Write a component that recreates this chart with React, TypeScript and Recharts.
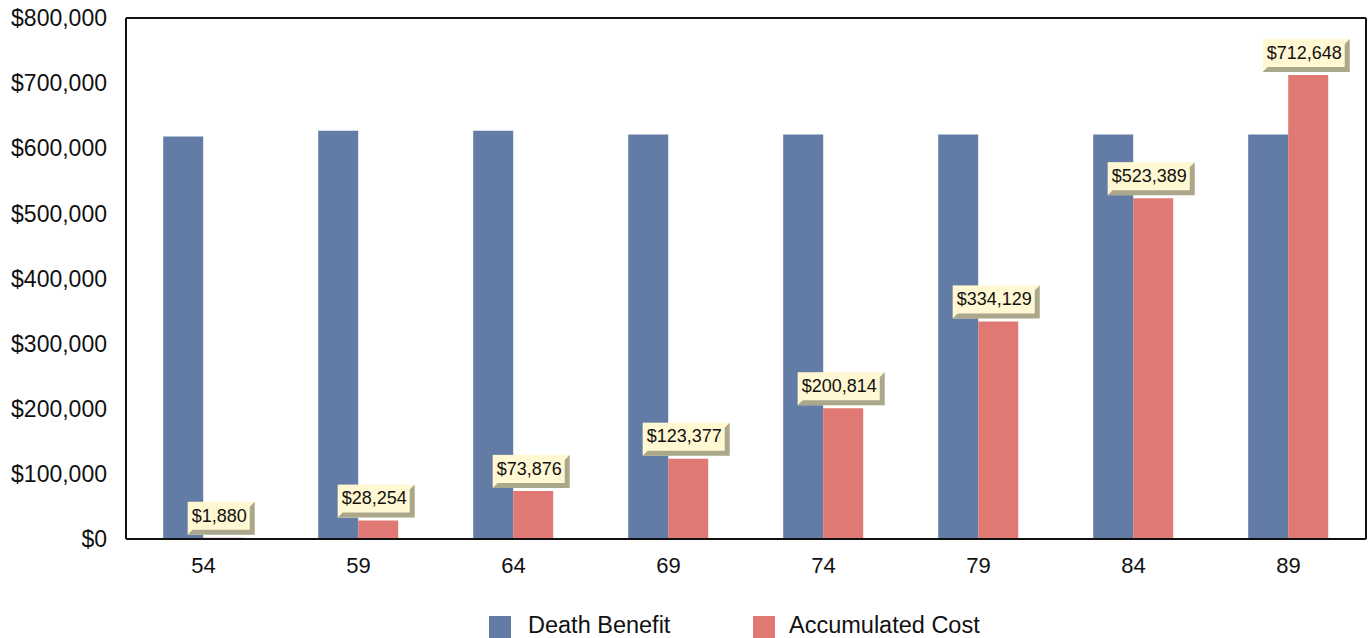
import { Bar, BarChart, CartesianGrid, LabelList, Legend, XAxis, YAxis } from "recharts"

const ages = [54, 59, 64, 69, 74, 79, 84, 89]
const deathBenefit = [618000, 627000, 627000, 621000, 621000, 621000, 621000, 621000]
const accumulatedCost = [1880, 28254, 73876, 123377, 200814, 334129, 523389, 712648]
const yTicks = [0, 100000, 200000, 300000, 400000, 500000, 600000, 700000, 800000]

const BLUE = "#627CA5"
const RED = "#E07873"
const FONT = "'Liberation Sans', Arial, sans-serif"

const money = (v: number) => "$" + v.toLocaleString("en-US")

// rough text width for Arial-like digits
const textWidth = (s: string, size: number) => {
    let w = 0
    for (const c of s) w += c === "," ? 0.278 : 0.556
    return w * size
}

const CalloutLabel = (props: any) => {
    const { x, y, width, value } = props
    const text = money(value)
    const tw = textWidth(text, 18)
    const W = tw + 12
    const H = 33
    const bv = 5
    const cx = x + width / 2 - 2
    const bx = cx - W / 2
    const by = y - 3 - H
    const shadow = [
        [bx + W, by],
        [bx + W, by + H],
        [bx, by + H],
        [bx + bv, by + H - bv],
        [bx + W - bv, by + H - bv],
        [bx + W - bv, by + bv],
    ].map(p => p.join(",")).join(" ")
    return (
        <g>
            <rect x={bx} y={by} width={W} height={H} fill="#FFF8D2" />
            <polygon points={shadow} fill="#ABA78C" />
            <text x={bx + 4} y={by + (H - bv) / 2 + 1} dominantBaseline="middle" fontSize={18} fontFamily={FONT} fill="#111">
                {text}
            </text>
        </g>
    )
}

const LegendBox = () => (
    <svg width={1370} height={38} style={{ display: "block" }}>
        <rect x={489} y={16} width={22} height={22} fill={BLUE} />
        <text x={528} y={33} fontSize={23.5} fontFamily={FONT} fill="#111">Death Benefit</text>
        <rect x={753} y={16} width={22} height={22} fill={RED} />
        <text x={789} y={33} fontSize={23.5} fontFamily={FONT} fill="#111">Accumulated Cost</text>
    </svg>
)

export default function App() {
    const data = ages.map((age, i) => ({
        age,
        "Death Benefit": deathBenefit[i],
        "Accumulated Cost": accumulatedCost[i],
    }))

    return (
        <div style={{ position: "absolute", left: 0, top: 0, width: 1370, height: 638, background: "#fff", overflow: "hidden" }}>
            <BarChart
                width={1370}
                height={638}
                data={data}
                margin={{ top: 18, right: 0, left: 0, bottom: 0 }}
                barCategoryGap="24%"
                barGap={0}
            >
                <CartesianGrid vertical={false} stroke="#111" strokeWidth={2} />
                <XAxis
                    dataKey="age"
                    height={61}
                    tickLine={false}
                    tickSize={0}
                    tickMargin={18}
                    axisLine={{ stroke: "#111", strokeWidth: 2 }}
                    tick={{ fill: "#111", fontSize: 22, fontFamily: FONT }}
                />
                <YAxis
                    yAxisId="left"
                    width={126}
                    domain={[0, 800000]}
                    ticks={yTicks}
                    tickFormatter={money}
                    tickLine={false}
                    tickSize={0}
                    tickMargin={19}
                    axisLine={{ stroke: "#111", strokeWidth: 2 }}
                    tick={{ fill: "#111", fontSize: 23, fontFamily: FONT }}
                />
                <YAxis
                    yAxisId="right"
                    orientation="right"
                    width={4}
                    domain={[0, 800000]}
                    tick={false}
                    tickLine={false}
                    axisLine={{ stroke: "#111", strokeWidth: 2 }}
                />
                <Legend content={<LegendBox />} wrapperStyle={{ left: 0, top: 600, width: 1370 }} />
                <Bar yAxisId="left" dataKey="Death Benefit" fill={BLUE} isAnimationActive={false} />
                <Bar yAxisId="left" dataKey="Accumulated Cost" fill={RED} isAnimationActive={false}>
                    <LabelList dataKey="Accumulated Cost" content={<CalloutLabel />} />
                </Bar>
            </BarChart>
        </div>
    )
}
